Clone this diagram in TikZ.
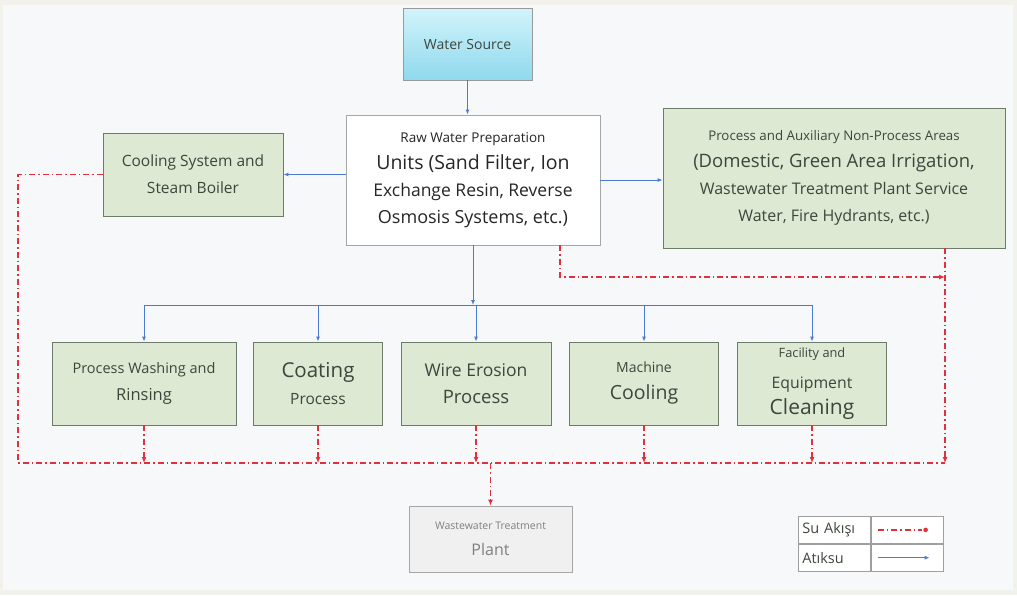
\documentclass[tikz,border=0pt]{standalone}
\usepackage{fontspec}
\setsansfont{Open Sans}
\newfontfamily\legfont{Open Sans}
\usetikzlibrary{arrows.meta,positioning,calc}
\definecolor{feedcol}{HTML}{4A7BD0}
\definecolor{draincol}{HTML}{E0303C}
\definecolor{unitfill}{HTML}{DDE9D3}
\definecolor{unitline}{HTML}{6E7A6A}
\definecolor{txtcol}{HTML}{3E463C}
\definecolor{pagecol}{HTML}{F6F8FA}
\definecolor{framecol}{HTML}{F3F1EC}
\definecolor{srctop}{HTML}{D2F4FB}
\definecolor{srcbot}{HTML}{8FD9EE}
\newcommand{\fsz}[1]{\fontsize{#1}{27}\selectfont}

\begin{document}
\begin{tikzpicture}[x=1pt,y=-1pt,
  every node/.style={font=\sffamily\fontsize{12}{27}\selectfont, text=txtcol, align=center},
  unit/.style={draw=unitline, fill=unitfill, line width=0.8pt, inner sep=2pt},
  plainbox/.style={draw=gray!70, line width=0.8pt, inner sep=2pt},
  legcell/.style={draw=gray!75, line width=0.8pt, fill=white, minimum width=72pt,
    minimum height=27pt, inner sep=4pt, text width=64pt, align=left,
    font=\legfont\fontsize{14.5}{17}\selectfont},
  feed/.style={draw=feedcol, line width=1pt, -{Latex[length=5pt,width=4pt]}},
  feedline/.style={draw=feedcol, line width=1pt},
  drain/.style={draw=draincol, line width=1.6pt, dash pattern=on 6pt off 3pt on 1.5pt off 3pt},
  drainarr/.style={drain, -{Latex[length=6pt,width=5pt]}}
]
\fill[framecol] (0,0) rectangle (1017,595);
\fill[pagecol] (3,5) rectangle (1013,590);
\useasboundingbox (0,0) rectangle (1017,595);

% supply side
\node[draw=gray!80, line width=0.8pt, top color=srctop, bottom color=srcbot,
  minimum width=129pt, minimum height=72pt] (src) at (467.5,44) {\fsz{14}Water Source};
\node[plainbox, fill=white, text=gray!30!black, minimum width=254pt, minimum height=130pt] (raw) at (473,180)
  {\fsz{13.5}Raw Water Preparation\\ \fsz{19.5}Units (Sand Filter, Ion\\
   \fsz{17.5}Exchange Resin, Reverse\\ \fsz{18}Osmosis Systems, etc.)};
\node[unit, minimum width=180pt, minimum height=83pt] (cool) at (193,174.5)
  {\fsz{15.5}Cooling System and\\ \fsz{15.5}Steam Boiler};
\node[unit, minimum width=342pt, minimum height=140pt] (aux) at (834,178)
  {\fsz{13.3}Process and Auxiliary Non-Process Areas\\ \fsz{18.5}(Domestic, Green Area Irrigation,\\
   \fsz{16}Wastewater Treatment Plant Service\\ \fsz{16}Water, Fire Hydrants, etc.)};

% process units
\node[unit, minimum width=184pt, minimum height=83pt] (wash) at (144,383.5)
  {\fsz{14.5}Process Washing and\\ \fsz{16.5}Rinsing};
\node[unit, minimum width=129pt, minimum height=83pt] (coat) at (318,383.5)
  {\fsz{20.5}Coating\\ \fsz{15.5}Process};
\node[unit, minimum width=150pt, minimum height=83pt] (wire) at (476,383.5)
  {\fsz{17.5}Wire Erosion\\ \fsz{18.5}Process};
\node[unit, minimum width=149pt, minimum height=83pt] (mcool) at (644,383.5)
  {\fsz{14}Machine\\ \fsz{19.5}Cooling};
\node[unit, minimum width=149pt, minimum height=83pt] (facil) at (812,383.5)
  {\fsz{12.8}Facility and\\[4pt] \fsz{15.8}Equipment\\[-1pt] \fsz{21}Cleaning};

\node[plainbox, fill=gray!12, text=gray, minimum width=163pt, minimum height=66pt] (wwtp) at (490.5,539)
  {\fsz{10.5}Wastewater Treatment\\[-1pt] \fsz{16}Plant};

% legend
\node[legcell, anchor=north west] (lg1) at (798,516) {Su Akışı};
\node[legcell, right=0pt of lg1] (lg2) {};
\node[legcell, below=0pt of lg1] (lg3) {Atıksu};
\node[legcell, below=0pt of lg2] (lg4) {};
\draw[drain] ([xshift=7pt]lg2.west) -- ([xshift=-22pt]lg2.east);
\fill[draincol] ([xshift=-18pt]lg2.east) circle (2.3pt);
\draw[feed] ([xshift=7pt]lg4.west) -- ([xshift=-14pt]lg4.east);

\coordinate (bus) at (472,305);
\coordinate (coll) at (18,463);
\coordinate (collend) at (945,463);
\coordinate (junc) at (945,277);

% water supply (blue)
\draw[feed] (src.south) -- (src.south |- raw.north);
\draw[feed] (cool.east -| raw.west) -- (cool.east);
\draw[feed] (raw.east) -- (raw.east -| aux.west);
\draw[feed] (raw.south) -- (raw.south |- bus);
\draw[feedline] (wash.north |- bus) -- (facil.north |- bus);
\foreach \u in {wash,coat,wire,mcool,facil} {
  \draw[feed] (\u.north |- bus) -- (\u.north);
  \draw[drainarr] (\u.south) -- (\u.south |- coll);
}

% wastewater (red)
\draw[drain] (cool.west) -| (coll) -- (collend);
\draw[drainarr] (collend |- aux.south) -- (collend);
\draw[drainarr] ([xshift=87pt]raw.south) |- (junc);
\draw[drainarr] (wwtp.north |- coll) -- (wwtp.north);
\end{tikzpicture}
\end{document}
